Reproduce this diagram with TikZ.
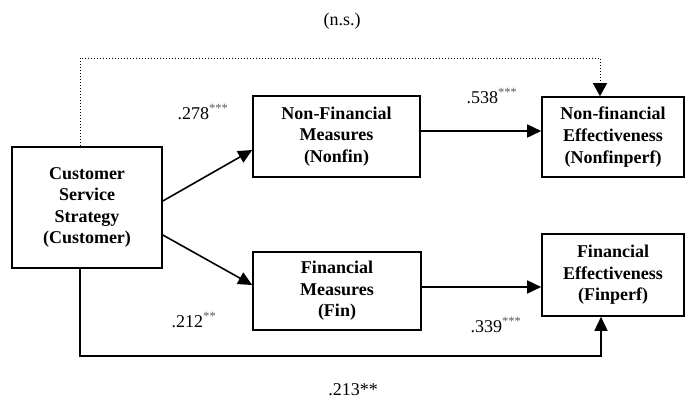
\documentclass[tikz,border=0pt]{standalone}
\usepackage{fontspec}
\setmainfont{Liberation Serif}
\usepackage{tikz}
\usetikzlibrary{arrows.meta,positioning}

\newcommand{\stars}[1]{\textsuperscript{\color{black!65}#1}}

\begin{document}
\begin{tikzpicture}[
  x=1pt, y=-1pt,
  boxnode/.style={draw,line width=1.6pt,rectangle,align=center,inner sep=0pt,
    font=\fontsize{18}{21.6}\selectfont\bfseries},
  coef/.style={font=\fontsize{18}{21.6}\selectfont},
  pathar/.style={line width=1.6pt,-{Triangle[length=14pt,width=13pt]}},
  nsar/.style={line width=1pt,dotted,-{Triangle[length=13pt,width=14pt]}}
]
\useasboundingbox (0,0) rectangle (686,402);

\node[boxnode,minimum width=150pt,minimum height=121pt] (cust) at (87,207.5)
  {Customer\\Service\\Strategy\\(Customer)};
\node[boxnode,minimum width=167pt,minimum height=81pt] (nonfin) at (336.5,136.5)
  {Non-Financial\\Measures\\(Nonfin)};
\node[boxnode,minimum width=168pt,minimum height=78pt] (fin) at (337,291)
  {Financial\\Measures\\(Fin)};
\node[boxnode,minimum width=142pt,minimum height=80pt] (nonfinperf) at (613,137)
  {Non-financial\\Effectiveness\\(Nonfinperf)};
\node[boxnode,minimum width=142pt,minimum height=82pt] (finperf) at (613,275)
  {Financial\\Effectiveness\\(Finperf)};

\coordinate (high) at (0,58);
\coordinate (low) at (0,356);

\path ([yshift=6.5pt]cust.east) edge[pathar] ([yshift=-13.5pt]nonfin.west)
([yshift=-27.5pt]cust.east) edge[pathar] ([yshift=6pt]fin.west);

\path ([yshift=5.5pt]nonfin.east) edge[pathar] ([yshift=5.5pt]nonfin.east -| nonfinperf.west)
([yshift=4pt]fin.east) edge[pathar] ([yshift=4pt]fin.east -| finperf.west);

\draw[pathar] ([xshift=-7pt]cust.south) -- ([xshift=-7pt]cust.south |- low)
  -| ([xshift=-12pt]finperf.south);
\draw[nsar] ([xshift=-7pt]cust.north) -- ([xshift=-7pt]cust.north |- high)
  -| ([xshift=-13pt]nonfinperf.north);

\node[coef] (ns) at (342,21) {(n.s.)};
\node[coef] (c278) at (203,112) {.278\stars{***}};
\node[coef] (c538) at (492,96) {.538\stars{***}};
\node[coef] (c212) at (194,320) {.212\stars{**}};
\node[coef] (c339) at (496,325) {.339\stars{***}};
\node[coef] (c213) at (353,390) {.213**};

\end{tikzpicture}
\end{document}
